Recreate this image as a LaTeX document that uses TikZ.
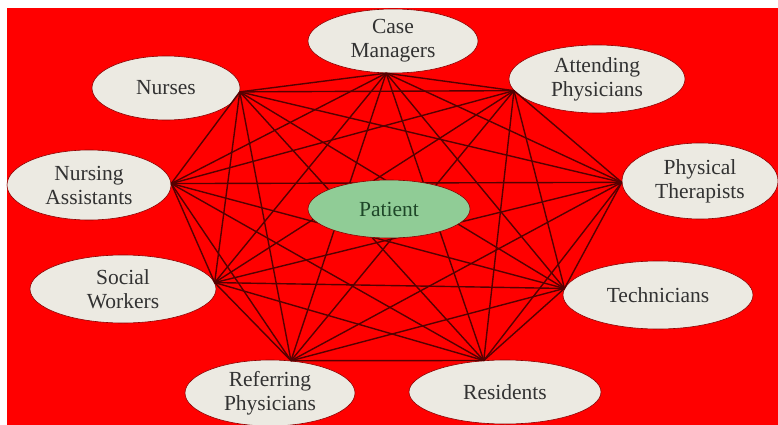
\documentclass[tikz,border=0pt]{standalone}
\usepackage{fontspec}
\setmainfont{Liberation Serif}
\usetikzlibrary{shapes.geometric,positioning}
\definecolor{bgred}{RGB}{255,0,0}
\definecolor{boxfill}{RGB}{236,234,226}
\definecolor{patfill}{RGB}{144,204,150}
\definecolor{edgecol}{RGB}{85,0,0}
\definecolor{txtgray}{RGB}{50,50,50}
\definecolor{pattxt}{RGB}{30,70,40}
\tikzset{
    %Define style for the staff ellipses
    staff/.style={
           ellipse,
           draw=red!55!black, line width=0.6pt,
           fill=boxfill,
           inner sep=0pt,
           font=\fontsize{21.5}{24}\selectfont,
           text=txtgray,
           align=center,
           },
    patient/.style={
           staff,
           fill=patfill,
           text=pattxt,
           },
    % Define line style
    link/.style={
           draw=edgecol,
           line width=1.4pt,
           },
}

\begin{document}
\begin{tikzpicture}[x=1pt,y=-1pt]
\useasboundingbox (0,0) rectangle (778,425);
\fill[bgred] (7,8) rectangle (778,425);
% staff around the patient
\node[staff, minimum width=170pt, minimum height=64pt] (cm) at (393,41) {Case\\Managers};
\node[staff, minimum width=176pt, minimum height=68pt] (att) at (597,79) {Attending\\Physicians};
\node[staff, minimum width=156pt, minimum height=76pt] (pt) at (700,181) {Physical\\Therapists};
\node[staff, minimum width=190pt, minimum height=68pt] (tech) at (658,295) {Technicians};
\node[staff, minimum width=192pt, minimum height=64pt] (res) at (505,392) {Residents};
\node[staff, minimum width=170pt, minimum height=66pt] (ref) at (270,393) {Referring\\Physicians};
\node[staff, minimum width=186pt, minimum height=68pt] (soc) at (123,289) {Social\\Workers};
\node[staff, minimum width=164pt, minimum height=70pt] (na) at (89,185) {Nursing\\Assistants};
\node[staff, minimum width=148pt, minimum height=64pt] (nur) at (166,88) {Nurses};
% meeting points of the lines
\coordinate (v1) at (cm.-102);
\coordinate (v2) at (att.188);
\coordinate (v3) at (pt.181);
\coordinate (v4) at (tech.176);
\coordinate (v5) at (res.124);
\coordinate (v6) at (ref.57);
\coordinate (v7) at (soc.4);
\coordinate (v8) at (na.1);
\coordinate (v9) at (nur.-3);
\foreach \i in {1,...,8}{
    \pgfmathtruncatemacro\k{\i+1}
    \foreach \j in {\k,...,9}
        \path[link] (v\i) -- (v\j);
}
\node[patient, minimum width=162pt, minimum height=58pt] (pat) at (389,209) {Patient};
\end{tikzpicture}
\end{document}
